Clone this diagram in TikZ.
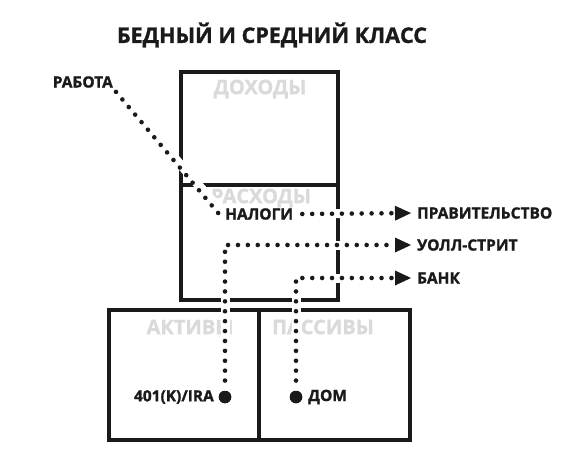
\documentclass[tikz,border=0pt]{standalone}
\usepackage{fontspec}
\setmainfont{Open Sans}[BoldFeatures={FakeBold=1.3}]
\usetikzlibrary{arrows.meta}
\definecolor{ink}{HTML}{1A1A1A}
\definecolor{ghost}{HTML}{DADADA}
\begin{document}
\begin{tikzpicture}[x=1pt,y=-1pt,
  box/.style={draw=ink, line width=3.2pt, rectangle, inner sep=0pt},
  ghosttitle/.style={text=ghost, font=\fontsize{20}{20}\selectfont\bfseries, inner sep=0pt},
  lbl/.style={text=ink, font=\fontsize{15.5}{15.5}\selectfont\bfseries, inner sep=0pt},
  halo/.style={draw=white, line width=9pt},
  dots/.style={draw=ink, line width=4.6pt, line cap=round, dash pattern=on 0pt off 9.9pt},
  bigdot/.style={circle, fill=ink, minimum size=12.5pt, inner sep=0pt},
  tip/.style={-{Triangle[length=16pt,width=15pt,line width=0pt]}, shorten >=6pt}
]
\useasboundingbox (0,0) rectangle (579,455);
% title
\node[text=ink, font=\fontsize{21.5}{21.5}\selectfont\bfseries, inner sep=0pt] (title) at (272,35) {БЕДНЫЙ И СРЕДНИЙ КЛАСС};
% boxes
\node[box, minimum width=157pt, minimum height=113pt] (income) at (259.5,128.5) {};
\node[box, minimum width=157pt, minimum height=115pt] (expense) at (259.5,242.5) {};
\node[box, minimum width=150pt, minimum height=130pt] (assets) at (184,375) {};
\node[box, minimum width=151pt, minimum height=130pt] (liab) at (334.5,375) {};
% grey titles
\node[ghosttitle] (incT) at (260,89) {ДОХОДЫ};
\node[ghosttitle] (expT) at (261,198) {РАСХОДЫ};
\node[ghosttitle] (assT) at (190,327) {АКТИВЫ};
\node[ghosttitle] (liaT) at (323,327) {ПАССИВЫ};
% labels
\node[lbl, anchor=east] (rabota) at (113,82) {РАБОТА};
\node[lbl, anchor=west, inner sep=1pt] (nalogi) at (224,214) {НАЛОГИ};
\node[lbl, anchor=west] (gov) at (417,213) {ПРАВИТЕЛЬСТВО};
\node[lbl, anchor=west] (wall) at (417,245) {УОЛЛ-СТРИТ};
\node[lbl, anchor=west] (bank) at (417,278) {БАНК};
\node[bigdot] (ira) at (225,397) {};
\node[bigdot] (dom) at (296,397) {};
\node[lbl, anchor=east] (iraT) at (214,397) {401(K)/IRA};
\node[lbl, anchor=west] (domT) at (308,397) {ДОМ};
% halos
\draw[halo, shorten >=4pt] (rabota.south east) -- (nalogi.west);
\draw[halo, shorten <=4pt] (nalogi.east) -- (gov.west);
\draw[halo] (ira.north) -- (ira |- wall.west) -- (wall.west);
\draw[halo] (dom.north) -- (dom |- bank.west) -- (bank.west);
% dotted connectors
\draw[dots] ([shift={(3pt,-4pt)}]rabota.south east) -- ([xshift=-5pt]nalogi.west);
\draw[dots, tip] ([xshift=8pt]nalogi.east) -- (gov.west);
\draw[dots, tip, shorten <=10pt] (ira.north) -- (ira |- wall.west) -- (wall.west);
\draw[dots, tip, shorten <=10pt] (dom.north) -- (dom |- bank.west) -- (bank.west);
\node[bigdot] at (ira) {};
\node[bigdot] at (dom) {};
\end{tikzpicture}
\end{document}
